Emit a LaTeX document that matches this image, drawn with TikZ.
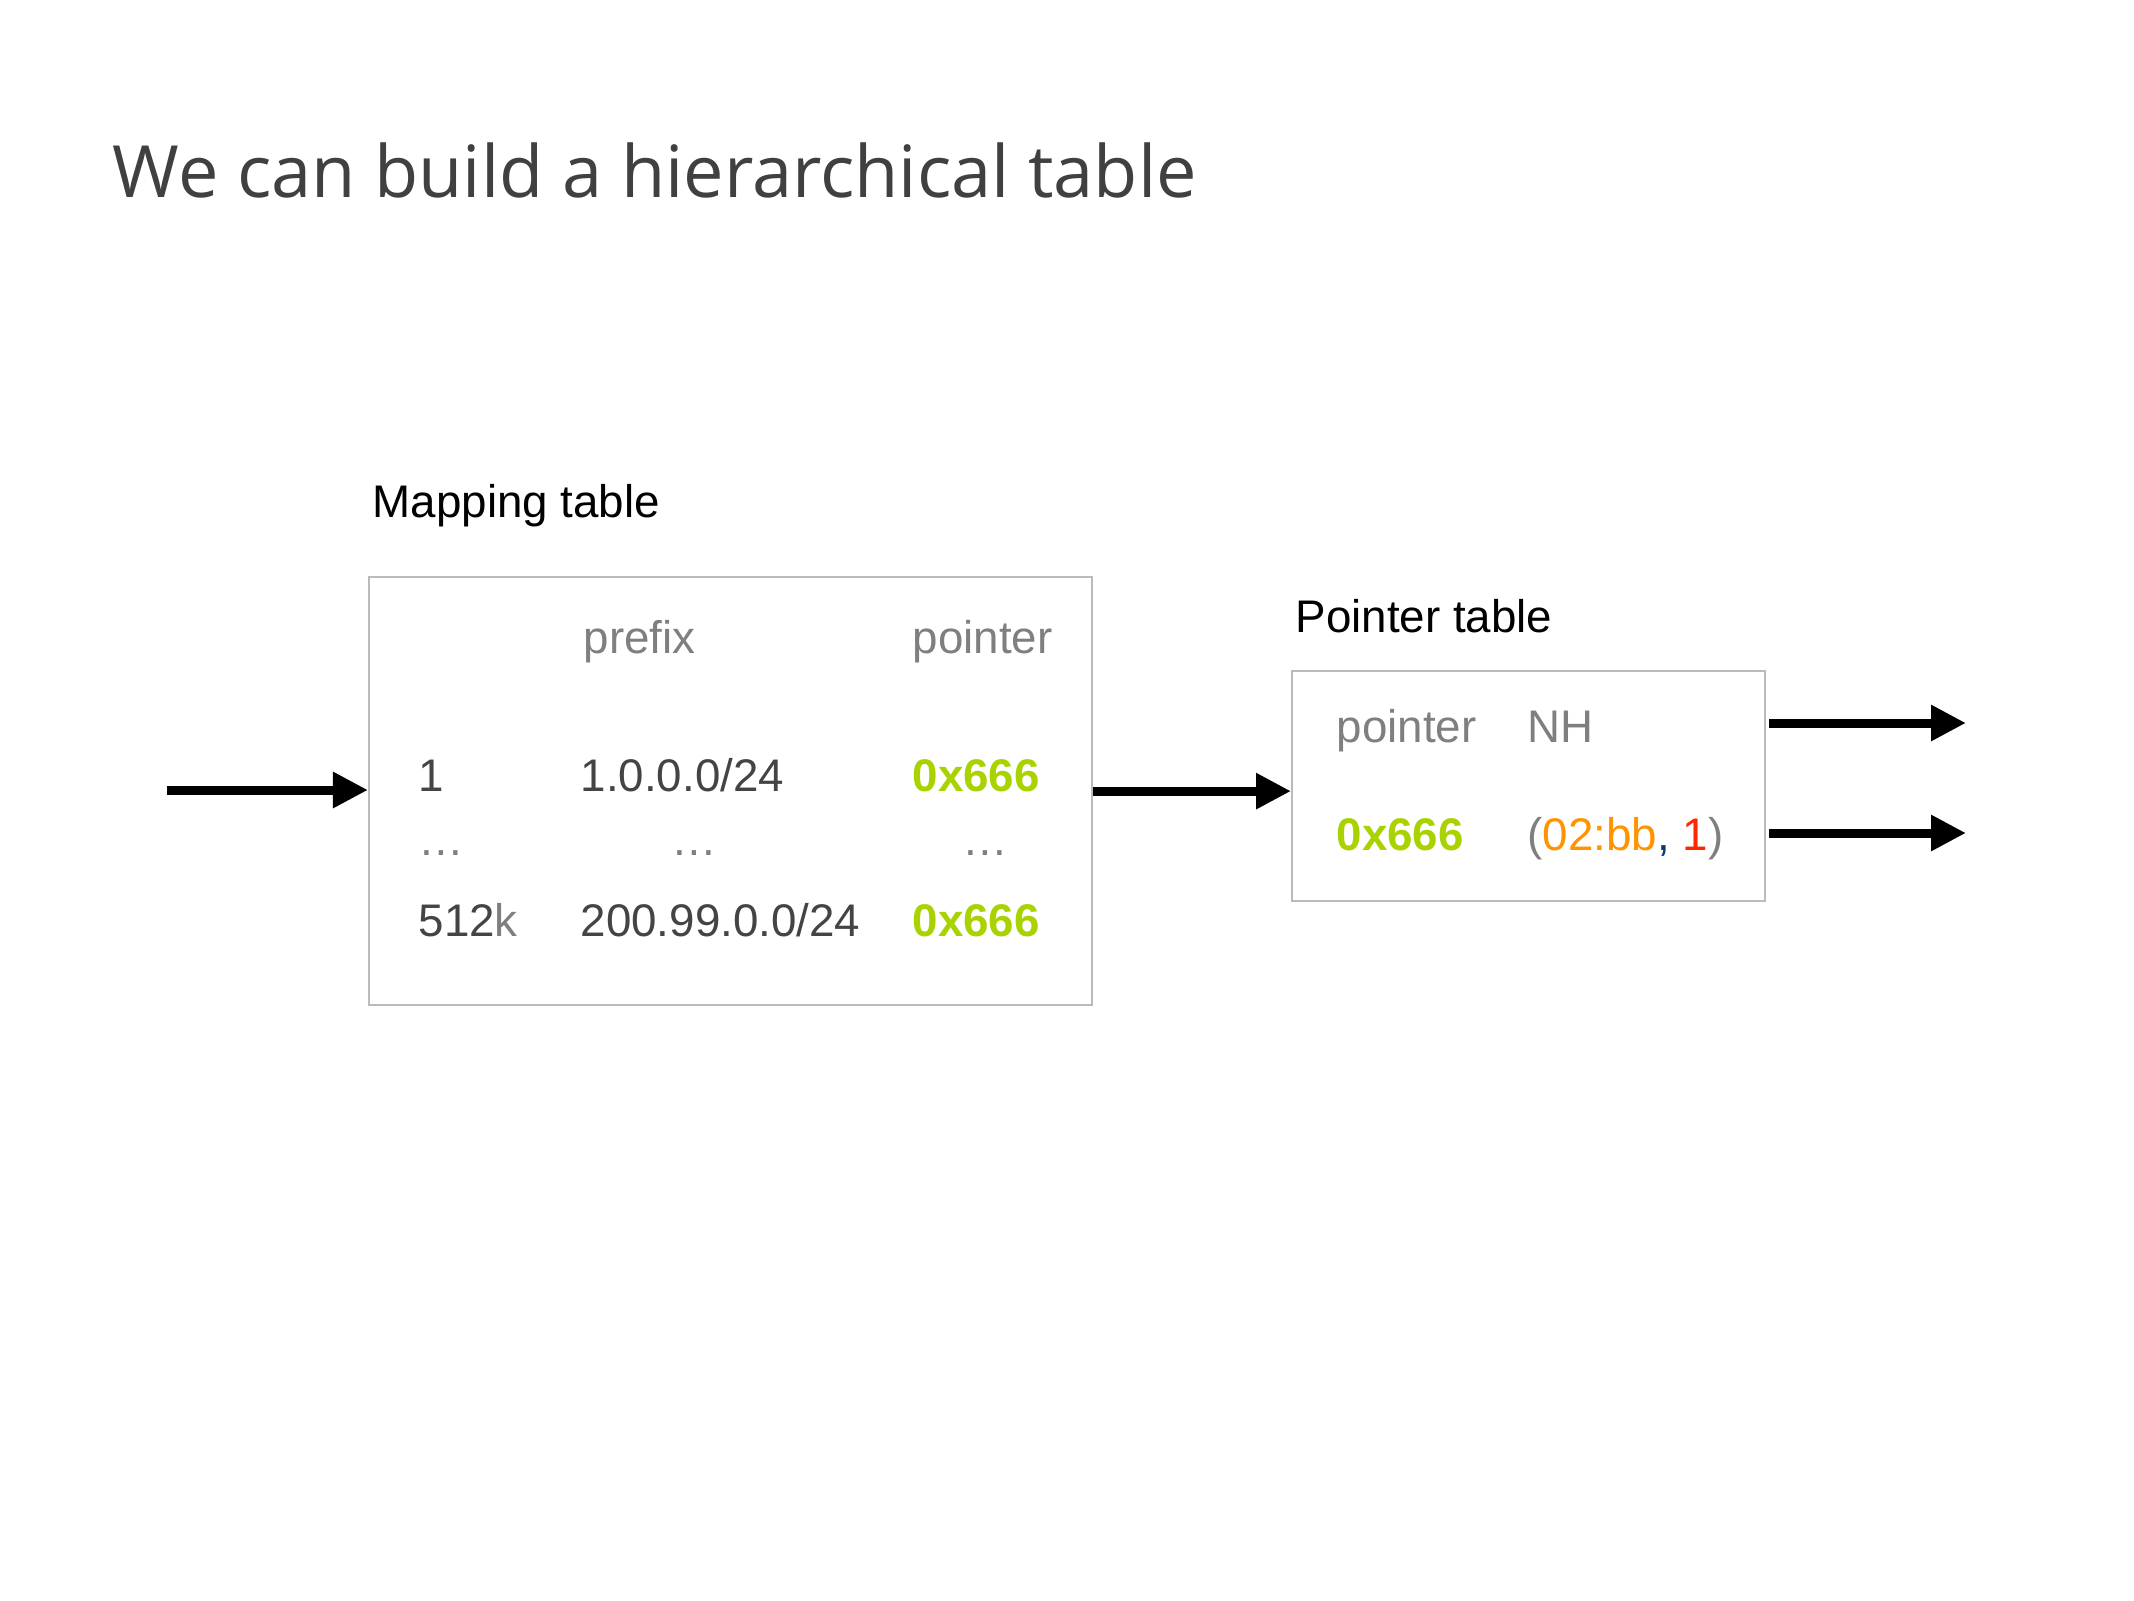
\documentclass[tikz,border=0pt]{standalone}
\usepackage{fontspec}
\setmainfont{Liberation Sans}
\newfontfamily\titlefont{Open Sans}
\usetikzlibrary{arrows.meta}
\definecolor{titlegray}{HTML}{404040}
\definecolor{cellgray}{HTML}{444444}
\definecolor{headgray}{HTML}{7F7F7F}
\definecolor{boxgray}{HTML}{BBBBBB}
\definecolor{ptrgreen}{HTML}{A8D200}
\definecolor{nhorange}{HTML}{FF9300}
\definecolor{nhred}{HTML}{FF2600}
\definecolor{commablue}{HTML}{0B3B6B}
\begin{document}
\begin{tikzpicture}[x=0.01cm, y=-0.01cm,
    lbl/.style={anchor=base west, inner sep=0pt, font=\fontsize{13}{15}\selectfont},
    head/.style={lbl, text=headgray},
    cell/.style={lbl, text=cellgray},
    ptrval/.style={lbl, text=ptrgreen, font=\fontsize{13}{15}\selectfont\bfseries},
    tablebox/.style={draw=boxgray, line width=0.02cm, anchor=north west, inner sep=0pt},
    fwd/.style={line width=0.09cm, -{Triangle[length=0.35cm, width=0.34cm]}}]
    \useasboundingbox (0, 0) rectangle (2134, 1600);
    % title
    \node[anchor=base west, inner sep=0pt, text=titlegray, font=\titlefont\fontsize{20.5}{24}\selectfont] (title) at (112, 198) {We can build a hierarchical table};
    % mapping table
    \node[lbl] (maplabel) at (372, 517) {Mapping table};
    \node[tablebox, minimum width=7.23cm, minimum height=4.28cm] (maptab) at (368, 576) {};
    \node[head] (prefixhead) at (583, 653) {prefix};
    \node[head] (pointerhead) at (912, 653) {pointer};
    \node[cell] (idxa) at (418, 791) {1};
    \node[cell] (prefixa) at (580, 791) {1.0.0.0/24};
    \node[ptrval] (ptra) at (912, 791) {0x666};
    \node[head] (dotsa) at (418, 855) {…};
    \node[head] (dotsb) at (671, 855) {…};
    \node[head] (dotsc) at (962, 855) {…};
    \node[cell] (idxb) at (418, 936) {512\textcolor{headgray}{k}};
    \node[cell] (prefixb) at (580, 936) {200.99.0.0/24};
    \node[ptrval] (ptrb) at (912, 936) {0x666};
    % pointer table
    \node[lbl] (ptrlabel) at (1295, 632) {Pointer table};
    \node[tablebox, minimum width=4.73cm, minimum height=2.30cm] (ptrtab) at (1291, 670) {};
    \node[head] (ptrhead) at (1336, 742) {pointer};
    \node[head] (nhhead) at (1527, 742) {NH};
    \node[ptrval] (ptrc) at (1336, 850) {0x666};
    \node[cell] (nhval) at (1527, 850) {\textcolor{headgray}{(}\textcolor{nhorange}{02:bb}\textcolor{commablue}{,} \textcolor{nhred}{1}\textcolor{headgray}{)}};
    % arrows
    \coordinate (src) at (167, 790);
    \coordinate (outa) at (1966, 723);
    \coordinate (outb) at (1966, 833);
    \draw[fwd] (src) -- (src -| maptab.west);
    \draw[fwd] (maptab.east) -- (maptab.east -| ptrtab.west);
    \draw[fwd, shorten <=0.03cm] (ptrtab.east |- outa) -- (outa);
    \draw[fwd, shorten <=0.03cm] (ptrtab.east |- outb) -- (outb);
\end{tikzpicture}
\end{document}
